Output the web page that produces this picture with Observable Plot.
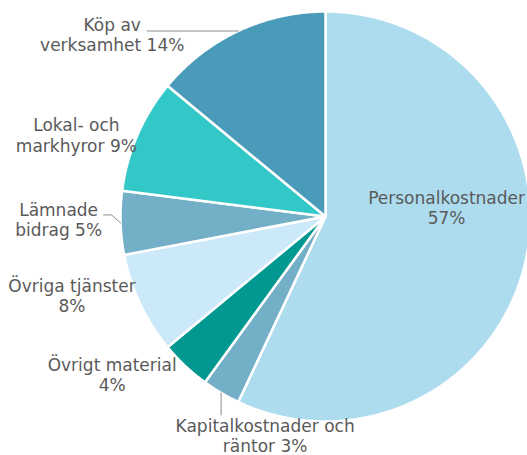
<!DOCTYPE html>
<html><head><meta charset="utf-8">
<script src="https://cdn.jsdelivr.net/npm/d3@7"></script>
<script src="https://cdn.jsdelivr.net/npm/@observablehq/plot@0.6"></script>
<style>body{margin:0;background:#fff}</style>
</head><body><div id="chart"></div>
<script>
// ---- data ----
const categories = ["Personalkostnader", "Kapitalkostnader och räntor", "Övrigt material", "Övriga tjänster", "Lämnade bidrag", "Lokal- och markhyror", "Köp av verksamhet"];
const shares = [57, 3, 4, 8, 5, 9, 14];
const labelTexts = ["Personalkostnader\n57%", "Kapitalkostnader och\nräntor 3%", "Övrigt material\n4%", "Övriga tjänster\n8%", "Lämnade\nbidrag 5%", "Lokal- och\nmarkhyror 9%", "Köp av\nverksamhet 14%"];
const colors = ["#ADDCEF", "#73B0C8", "#009891", "#CCE9FA", "#73B0C8", "#33C8C8", "#4A9BB9"];

// ---- layout (pixels) ----
const W = 527, H = 455, CX = 325, CY = 216, R = 205;
// label offsets from the slice's mid-angle point on the rim
const labelOffsets = [[-79, -54], [44, 43], [-73, 9], [-68, -8], [-62, -3], [-61, 0], [-126, 4]];
// leader line offsets from the rim point (null = no leader)
const leaderOffsets = [null, [[0, 0], [0, 22]], null, null, [[0, 0], [-9, -8], [-17, -8]], null, [[0, 0], [-91, 0]]];

const arcs = d3.pie().sort(null).value(d => d)(shares);
const slices = arcs.map((a, i) => {
  const n = Math.max(2, Math.ceil((a.endAngle - a.startAngle) / (Math.PI / 360)) + 1);
  const pts = [{x: 0, y: 0}];
  for (let k = 0; k < n; k++) {
    const t = a.startAngle + (a.endAngle - a.startAngle) * k / (n - 1);
    pts.push({x: Math.sin(t), y: Math.cos(t)});
  }
  return {pts, color: colors[i]};
});
const mids = arcs.map(a => {
  const t = (a.startAngle + a.endAngle) / 2;
  return {x: Math.sin(t), y: Math.cos(t)};
});
const labels = mids.map((m, i) => ({
  x: m.x + labelOffsets[i][0] / R,
  y: m.y - labelOffsets[i][1] / R,
  text: labelTexts[i]
}));
const leaders = [];
leaderOffsets.forEach((offs, i) => {
  if (!offs) return;
  offs.forEach(([ox, oy]) => leaders.push({x: mids[i].x + ox / R, y: mids[i].y - oy / R, k: i}));
});

const chart = Plot.plot({
  width: W, height: H, margin: 0,
  x: {domain: [-CX / R, (W - CX) / R], range: [0, W], axis: null},
  y: {domain: [(CY - H) / R, CY / R], range: [H, 0], axis: null},
  style: {background: "#fff"},
  marks: [
    ...slices.map(s => Plot.line(s.pts, {x: "x", y: "y", curve: "linear-closed", fill: s.color, stroke: "#fff", strokeWidth: 2.5, strokeLinejoin: "round"})),
    Plot.line(leaders, {x: "x", y: "y", z: "k", stroke: "#8c8c8c", strokeWidth: 1}),
    Plot.text(labels, {x: "x", y: "y", text: "text", fontSize: 17, fontFamily: "DejaVu Sans", fill: "#5a5a5a", lineHeight: 1.18, textAnchor: "middle", lineAnchor: "middle"})
  ]
});
document.getElementById("chart").appendChild(chart);
</script>
</body></html>
